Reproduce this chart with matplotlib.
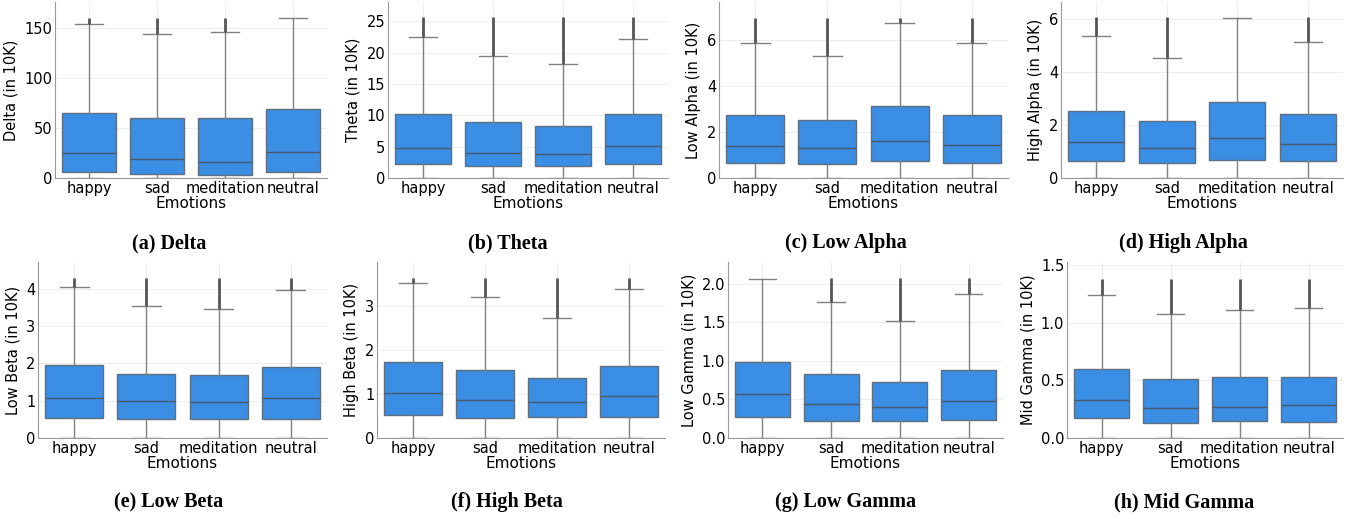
import numpy as np
import matplotlib
matplotlib.use("Agg")
import matplotlib.pyplot as plt

# categorias y bandas
emociones = ["happy", "sad", "meditation", "neutral"]
bandas = ["Delta", "Theta", "Low Alpha", "High Alpha",
          "Low Beta", "High Beta", "Low Gamma", "Mid Gamma"]
letras = ["a", "b", "c", "d", "e", "f", "g", "h"]

# estadisticos (en 10K): q1, mediana, q3, bigote sup, max atipico
q1 = [[6.3, 4.0, 3.0, 6.0],
      [2.23, 1.97, 1.86, 2.29],
      [0.65, 0.62, 0.74, 0.64],
      [0.64, 0.57, 0.69, 0.63],
      [0.53, 0.51, 0.51, 0.52],
      [0.52, 0.45, 0.47, 0.47],
      [0.27, 0.22, 0.22, 0.23],
      [0.17, 0.13, 0.15, 0.14]]
mediana = [[24.7, 18.7, 16.3, 26.3],
           [4.79, 3.99, 3.83, 5.05],
           [1.40, 1.30, 1.62, 1.43],
           [1.35, 1.13, 1.50, 1.30],
           [1.07, 1.00, 0.96, 1.06],
           [1.02, 0.86, 0.82, 0.95],
           [0.57, 0.44, 0.40, 0.48],
           [0.33, 0.26, 0.27, 0.29]]
q3 = [[64.7, 59.7, 60.3, 68.7],
      [10.27, 8.88, 8.35, 10.2],
      [2.73, 2.50, 3.14, 2.76],
      [2.53, 2.14, 2.88, 2.43],
      [1.95, 1.72, 1.68, 1.89],
      [1.72, 1.55, 1.37, 1.63],
      [0.99, 0.83, 0.73, 0.88],
      [0.60, 0.51, 0.53, 0.53]]
bigote_sup = [[153.7, 144.0, 145.7, 159.7],
              [22.5, 19.4, 18.2, 22.2],
              [5.86, 5.32, 6.72, 5.88],
              [5.35, 4.53, 6.06, 5.12],
              [4.04, 3.53, 3.44, 3.97],
              [3.53, 3.20, 2.72, 3.38],
              [2.06, 1.76, 1.52, 1.87],
              [1.24, 1.08, 1.11, 1.13]]
maximo = [[160.0, 160.0, 160.0, None],
          [25.7, 25.7, 25.7, 25.7],
          [6.94, 6.94, 6.94, 6.94],
          [6.08, 6.08, None, 6.08],
          [4.29, 4.29, 4.29, 4.29],
          [3.63, 3.63, 3.63, 3.63],
          [None, 2.07, 2.07, 2.07],
          [1.38, 1.38, 1.38, 1.38]]
ylim_sup = [176, 28.1, 7.65, 6.65, 4.71, 4.0, 2.28, 1.53]
yticks = [[0, 50, 100, 150], [0, 5, 10, 15, 20, 25], [0, 2, 4, 6], [0, 2, 4, 6],
          [0, 1, 2, 3, 4], [0, 1, 2, 3], [0.0, 0.5, 1.0, 1.5, 2.0], [0.0, 0.5, 1.0, 1.5]]

# posiciones de los ejes en pixeles (izq, der) y filas
W, H = 1353, 519
lados = [(55, 327), (388, 668), (719, 1008), (1061, 1343),
         (38, 327), (377, 665), (728, 1003), (1067, 1343)]
filas = [(2, 178), (262, 438)]

azul = "#3a8ee3"
fig = plt.figure(figsize=(W / 100, H / 100), dpi=100)

for i, banda in enumerate(bandas):
    izq, der = lados[i]
    arriba, abajo = filas[i // 4]
    ax = fig.add_axes([izq / W, 1 - abajo / H, (der - izq) / W, (abajo - arriba) / H])
    stats = []
    for j in range(4):
        stats.append(dict(whislo=0.0, q1=q1[i][j], med=mediana[i][j], q3=q3[i][j],
                          whishi=bigote_sup[i][j], fliers=[]))
    ax.bxp(stats, positions=range(4), widths=0.8, patch_artist=True, showfliers=False,
           boxprops=dict(facecolor=azul, edgecolor="#5f6f7f", linewidth=1.0),
           medianprops=dict(color="#4a5a6a", linewidth=1.0),
           whiskerprops=dict(color="#808080", linewidth=1.0),
           capprops=dict(color="#808080", linewidth=1.0))
    # atipicos: columna densa desde el bigote hasta el maximo
    for j in range(4):
        if maximo[i][j] is not None:
            ax.vlines(j, bigote_sup[i][j], maximo[i][j], color="#555555", linewidth=2.0, zorder=3)
    ax.set_xlim(-0.5, 3.5)
    ax.set_ylim(0, ylim_sup[i])
    ax.set_yticks(yticks[i])
    if i >= 6:
        ax.set_yticklabels([f"{t:.1f}" for t in yticks[i]])
    ax.set_xticks(range(4))
    ax.set_xticklabels(emociones)
    ax.tick_params(length=0, labelsize=10.5, pad=2)
    ax.grid(True, color="#ededed", linewidth=0.7)
    ax.set_axisbelow(True)
    for s in ["top", "right"]:
        ax.spines[s].set_visible(False)
    for s in ["left", "bottom"]:
        ax.spines[s].set_color("#999999")
    ax.set_xlabel("Emotions", fontsize=11, labelpad=0)
    ax.set_ylabel(banda + " (in 10K)", fontsize=10.5, labelpad=4)

    # titulo de subfigura
    cx = (i % 4) * W / 4 + W / 8
    cy = 1 - 243 / H if i < 4 else 1 - 502 / H
    fig.text(cx / W, cy, f"({letras[i]}) {banda}", ha="center", va="center",
             fontsize=14.5, fontweight="bold", family="Liberation Serif")

plt.savefig("out.png", dpi=100)
